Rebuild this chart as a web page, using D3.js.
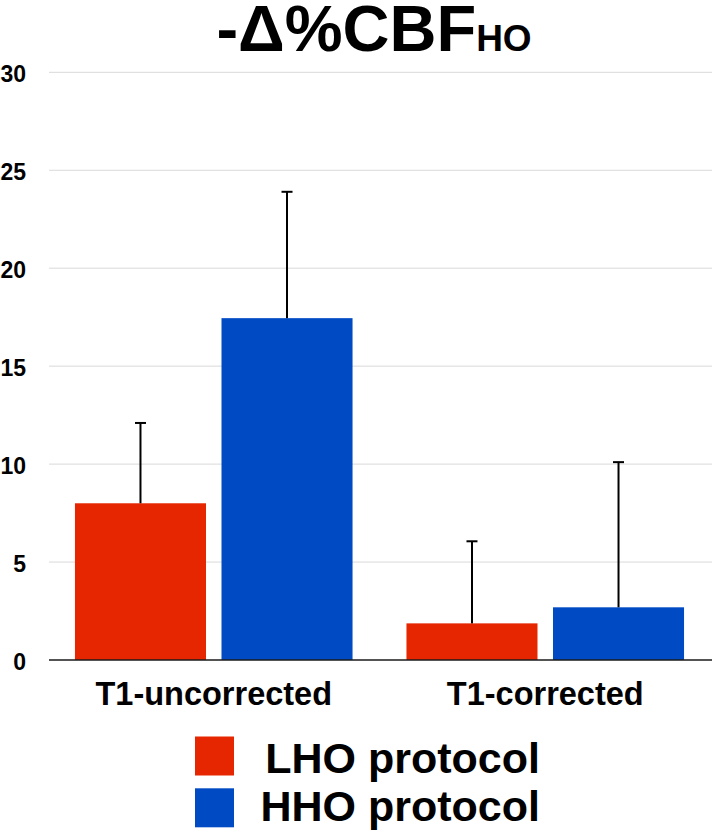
<!DOCTYPE html>
<html>
<head>
<meta charset="utf-8">
<script src="https://cdn.jsdelivr.net/npm/d3@7"></script>
<style>
  html, body { margin: 0; padding: 0; background: #fff; }
  svg { display: block; font-family: "Liberation Sans", Arial, Helvetica, sans-serif; }
</style>
</head>
<body>
<svg id="chart" width="714" height="833"></svg>
<script>
const categories = ["T1-uncorrected", "T1-corrected"];
const seriesNames = ["LHO protocol", "HHO protocol"];
const lhoMeans = [8.0, 1.87];
const lhoSD = [4.1, 4.19];
const hhoMeans = [17.45, 2.69];
const hhoSD = [6.45, 7.41];
const yTicks = [0, 5, 10, 15, 20, 25, 30];
const colors = ["#e52600", "#004bc3"];

const series = [
  { name: seriesNames[0], means: lhoMeans, sd: lhoSD, color: colors[0] },
  { name: seriesNames[1], means: hhoMeans, sd: hhoSD, color: colors[1] }
];

const svg = d3.select("#chart");

const y = d3.scaleLinear().domain([0, 30]).range([660, 72.3]);
const x0 = d3.scaleBand().domain(categories).range([48, 711]).padding(0);
const x1 = d3.scaleBand().domain(seriesNames).range([0, x0.bandwidth()])
  .paddingInner(0.1058).paddingOuter(0.184);

// gridlines
const grid = svg.append("g").attr("class", "grid");
grid.selectAll("line").data(yTicks.filter(d => d !== 0)).join("line")
  .attr("x1", 49).attr("x2", 712)
  .attr("y1", d => y(d)).attr("y2", d => y(d))
  .attr("stroke", "#d9d9d9").attr("stroke-width", 1);

// y tick labels via axis
const yAxis = svg.append("g").attr("transform", "translate(26,0)")
  .call(d3.axisLeft(y).tickValues(yTicks).tickSize(0).tickPadding(0));
yAxis.select(".domain").remove();
yAxis.selectAll("text")
  .attr("font-family", "'Liberation Sans', Arial, sans-serif")
  .attr("font-size", 23).attr("font-weight", "bold").attr("fill", "#000")
  .attr("dy", "0.42em");

// bars
const groups = svg.append("g").selectAll("g").data(series).join("g");
groups.selectAll("rect").data(s => categories.map((c, i) => ({ c, v: s.means[i], sd: s.sd[i], s })))
  .join("rect")
  .attr("x", d => x0(d.c) + x1(d.s.name))
  .attr("width", x1.bandwidth())
  .attr("y", d => y(d.v))
  .attr("height", d => y(0) - y(d.v))
  .attr("fill", d => d.s.color);

// error bars (upper only)
const errs = svg.append("g");
series.forEach(s => {
  categories.forEach((c, i) => {
    const cx = x0(c) + x1(s.name) + x1.bandwidth() / 2;
    const top = y(s.means[i] + s.sd[i]);
    errs.append("line").attr("x1", cx).attr("x2", cx)
      .attr("y1", y(s.means[i])).attr("y2", top)
      .attr("stroke", "#000").attr("stroke-width", 2);
    errs.append("line").attr("x1", cx - 5.5).attr("x2", cx + 5.5)
      .attr("y1", top).attr("y2", top)
      .attr("stroke", "#000").attr("stroke-width", 2);
  });
});

// zero axis line
svg.append("line").attr("x1", 49).attr("x2", 712)
  .attr("y1", y(0)).attr("y2", y(0))
  .attr("stroke", "#1a1a1a").attr("stroke-width", 1.5);

// category labels
const xAxis = svg.append("g").attr("transform", `translate(0,${y(0)})`)
  .call(d3.axisBottom(x0).tickSize(0).tickPadding(0));
xAxis.select(".domain").remove();
xAxis.selectAll("text")
  .attr("font-family", "'Liberation Sans', Arial, sans-serif")
  .attr("font-size", 32.5).attr("font-weight", "bold").attr("fill", "#000")
  .attr("dy", null).attr("y", 45);

// title
const title = svg.append("text").attr("x", 374).attr("y", 51)
  .attr("text-anchor", "middle").attr("font-weight", "bold").attr("fill", "#000");
title.append("tspan").attr("font-size", 65).text("-Δ%CBF");
title.append("tspan").attr("font-size", 37).text("HO");

// legend
const legend = svg.append("g");
series.forEach((s, i) => {
  const ly = 736.5 + i * 51.8;
  legend.append("rect").attr("x", 195).attr("y", ly).attr("width", 39).attr("height", 39)
    .attr("fill", s.color);
  legend.append("text").attr("x", 540).attr("y", 773.3 + i * 47.4)
    .attr("text-anchor", "end").attr("font-size", 43).attr("font-weight", "bold")
    .attr("fill", "#000").text(s.name);
});
</script>
</body>
</html>
